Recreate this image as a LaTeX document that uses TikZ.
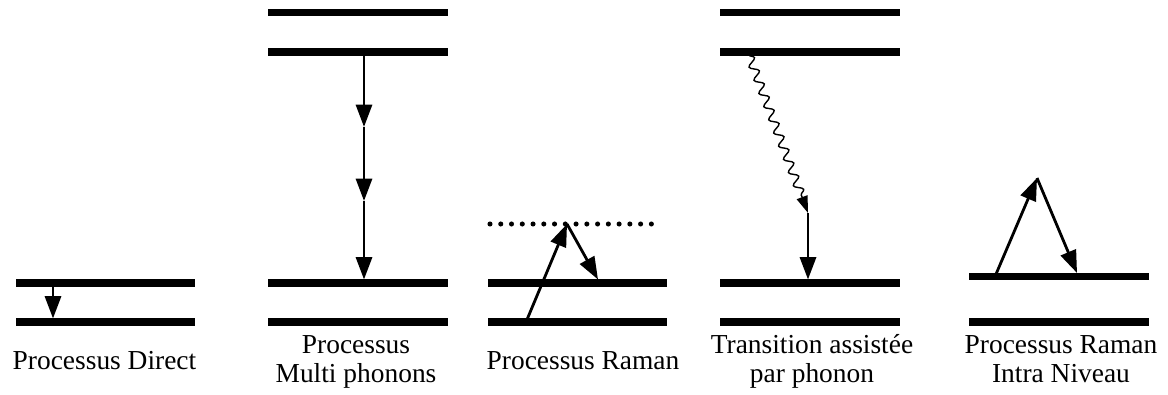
\documentclass[tikz,border=0pt]{standalone}
\usepackage{fontspec}
\setmainfont{Liberation Serif}
\usepackage{tikz}
\usetikzlibrary{arrows.meta,decorations.pathmorphing}

\begin{document}
\begin{tikzpicture}[x=0.025cm, y=-0.025cm,
	level/.style={line width=5pt},
	trans/.style={line width=2pt, -{Triangle[length=16pt,width=11.5pt]}},
	virtual/.style={line width=3.6pt, line cap=round, dash pattern=on 0pt off 7.65pt},
	phonon/.style={line width=1pt, -{Triangle[length=12pt,width=8pt]}, decorate,
		decoration={snake, amplitude=3pt, segment length=10pt, post length=10pt}},
	lab/.style={font=\fontsize{19.5}{20.6}\selectfont, align=center, inner sep=0pt}]
			%%%%% START %%%%%
			
			\useasboundingbox (0, 0) rectangle (1168, 394);
			
			% Processus Direct
			\draw[level] (16, 283) -- (195, 283);
			\draw[level] (16, 322) -- (195, 322);
			\coordinate (d1) at (53, 283);
			\coordinate (d2) at (53, 318.5);
			\draw[trans] (d1) -- (d2);
			\node[lab, anchor=base] (labDirect) at (104.5, 369) {Processus Direct};
			
			% Processus Multi phonons
			\draw[level] (268, 12.5) -- (448, 12.5);
			\draw[level] (268, 52) -- (448, 52);
			\draw[level] (268, 283) -- (448, 283);
			\draw[level] (268, 322) -- (448, 322);
			\coordinate (m0) at (364, 52);
			\coordinate (m1) at (364, 127);
			\coordinate (m2) at (364, 201);
			\coordinate (m3) at (364, 279.5);
			\draw[trans] (m0) -- (m1);
			\draw[trans] (m1) -- (m2);
			\draw[trans] (m2) -- (m3);
			\node[lab, anchor=base] (labMulti) at (356, 382) {Processus\\Multi phonons};
			
			% Processus Raman
			\draw[level] (488, 283) -- (667, 283);
			\draw[level] (488, 322) -- (667, 322);
			\draw[virtual] (490, 224) -- (662, 224);
			\coordinate (r0) at (526, 322);
			\coordinate (r1) at (567, 224);
			\coordinate (r2) at (598, 279.5);
			\draw[trans] (r0) -- (r1);
			\draw[trans] (r1) -- (r2);
			\node[lab, anchor=base] (labRaman) at (583, 369) {Processus Raman};
			
			% Transition assistee
			\draw[level] (720, 12.5) -- (900, 12.5);
			\draw[level] (720, 52) -- (900, 52);
			\draw[level] (720, 283) -- (900, 283);
			\draw[level] (720, 322) -- (900, 322);
			\coordinate (t0) at (749, 55);
			\coordinate (t1) at (808, 213);
			\coordinate (t2) at (808, 279.5);
			\draw[phonon] (t0) -- (t1);
			\draw[trans] (t1) -- (t2);
			\node[lab, anchor=base] (labAssist) at (812, 382) {Transition assistée\\par phonon};
			
			% Processus Raman Intra Niveau
			\draw[level] (969, 276.5) -- (1149, 276.5);
			\draw[level] (969, 322) -- (1149, 322);
			\coordinate (i0) at (995, 276.5);
			\coordinate (i1) at (1037, 178);
			\coordinate (i2) at (1077, 273);
			\draw[trans] (i0) -- (i1);
			\draw[trans] (i1) -- (i2);
			\node[lab, anchor=base] (labIntra) at (1061, 382) {Processus Raman\\Intra Niveau};
			
			%%%%% END %%%%%
\end{tikzpicture}
\end{document}
